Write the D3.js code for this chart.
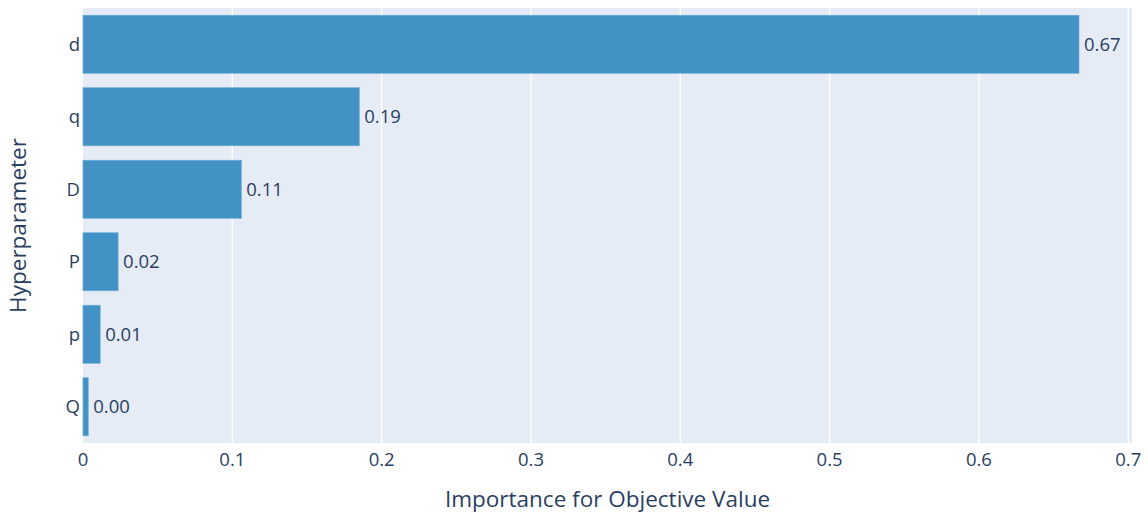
<!DOCTYPE html>
<html><head><meta charset="utf-8">
<script src="https://cdn.jsdelivr.net/npm/d3@7"></script>
<style>body{margin:0;background:#fff;} text{font-family:"Open Sans",sans-serif;fill:#2a3f5f;}</style>
</head><body>
<svg id="c" width="1148" height="515"></svg>
<script>
const categories = ["d","q","D","P","p","Q"];
const values = [0.667, 0.185, 0.106, 0.0235, 0.0115, 0.0035];
const labels = ["0.67","0.19","0.11","0.02","0.01","0.00"];
const xTicks = [0,0.1,0.2,0.3,0.4,0.5,0.6,0.7];

const svg = d3.select("#c");
const m = {l:83, r:16, t:8, b:72};
const W = 1148, H = 515;
const x = d3.scaleLinear().domain([0,0.7025]).range([m.l, W-m.r]);
const y = d3.scaleBand().domain(categories).range([m.t, H-m.b]).paddingInner(0.2).paddingOuter(0.1);

svg.append("rect").attr("x",m.l).attr("y",m.t).attr("width",W-m.r-m.l).attr("height",H-m.b-m.t).attr("fill","#e5ecf6");

svg.append("g").selectAll("line").data(xTicks.slice(1)).join("line")
  .attr("x1",d=>x(d)).attr("x2",d=>x(d)).attr("y1",m.t).attr("y2",H-m.b)
  .attr("stroke","#fff").attr("stroke-width",1.4);

svg.append("g").selectAll("rect").data(values).join("rect")
  .attr("x",x(0)).attr("y",(d,i)=>y(categories[i]))
  .attr("width",d=>x(d)-x(0)).attr("height",y.bandwidth())
  .attr("fill","#4292c6").attr("stroke","#6aa8d4").attr("stroke-width",0.7);

svg.append("g").selectAll("text").data(values).join("text")
  .attr("x",d=>x(d)+5).attr("y",(d,i)=>y(categories[i])+y.bandwidth()/2)
  .attr("dy","0.35em").attr("font-size",18.5).text((d,i)=>labels[i]);

svg.append("g").selectAll("text").data(categories).join("text")
  .attr("x",m.l-3).attr("y",d=>y(d)+y.bandwidth()/2).attr("dy","0.35em")
  .attr("text-anchor","end").attr("font-size",18.5).text(d=>d);

svg.append("g").selectAll("text").data(xTicks).join("text")
  .attr("x",d=>x(d)).attr("y",H-m.b+17).attr("dy","0.35em")
  .attr("text-anchor","middle").attr("font-size",18.5).text(d=>d===0?"0":d3.format(".1f")(d));

svg.append("text").attr("x",(x(0)+x(0.7025))/2).attr("y",499).attr("dy","0.35em")
  .attr("text-anchor","middle").attr("font-size",22.5).text("Importance for Objective Value");

svg.append("text").attr("transform",`translate(18,${(m.t+H-m.b)/2}) rotate(-90)`).attr("dy","0.35em")
  .attr("text-anchor","middle").attr("font-size",22.5).text("Hyperparameter");
</script>
</body></html>
